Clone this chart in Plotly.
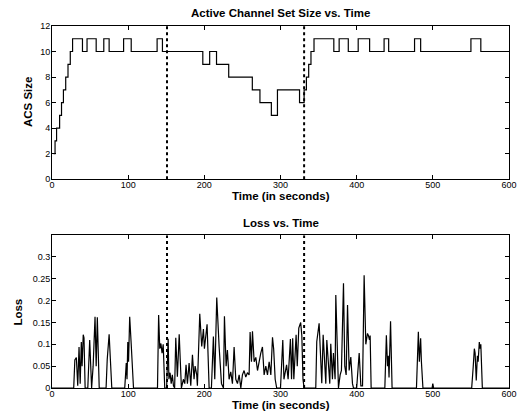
import plotly.graph_objects as go

# ---------------- data ----------------
# Active Channel Set size: step changes (time in s, new value)
acs_t = [2, 4, 6, 10, 12.5, 15, 18, 21, 24, 27, 40, 46, 58, 68, 75, 94, 104, 138, 145,
         198, 207, 216, 232, 263, 273, 288, 296, 325, 331, 334, 337, 340, 344,
         370, 377, 389, 402, 417, 436, 442, 476, 484, 550, 563, 600]
acs_v = [2, 3, 4, 5, 6, 7, 8, 9, 10, 11, 10, 11, 10, 11, 10, 11, 10, 11, 10,
         9, 10, 9, 8, 7, 6, 5, 7, 6, 7, 8, 9, 10, 11,
         10, 11, 10, 11, 10, 11, 10, 11, 10, 11, 10, 10]

# Loss over time
loss_t = [0, 28.5, 30, 32, 33.8, 35.5, 37, 38.5, 39.5, 41, 42, 43.5,
          47, 49.5, 52, 54, 56.5, 58, 59.5, 62,
          71, 72.5, 75, 76.5, 78.5,
          95.5, 97.5, 98.5, 99.5, 100.5, 102, 104, 107,
          138.5, 140, 141.5, 143, 144.5, 146, 148,
          150.5, 152.5, 153.5, 155, 156.5, 158, 159.5, 161,
          162.5, 164.6, 167, 169.9, 172.5, 174.3, 176, 177.8, 180, 182.2, 184.4, 186.5,
          187.9, 190, 190.9, 194, 196.6, 198.8, 200.1, 203.6, 206.3, 209.3, 211.9, 213.7,
          216.3, 219.4, 222.5, 225.1, 226.4, 228.6, 230.3, 232.5, 234.7, 236.9, 239.1,
          241.3, 243.5, 245.7, 247.9, 250, 252.2, 254.4, 256.6, 258.8, 260.1, 261.9,
          263.2, 265.4, 267.6, 269.8, 272, 274.1, 276.3, 278.5, 280.7, 282.9, 285.1,
          287.3, 289.5, 291, 293, 295, 300, 303, 304.5, 306.5, 308, 310, 313, 314.5,
          316, 317.5, 319, 320.5, 322, 324, 326.5, 328, 329.5, 331,
          346.3, 347.6, 350.7, 352.9, 354.2, 356, 358.2, 359.5, 360.8, 363, 364.7,
          366, 368.2, 369.5, 371.7, 372.6, 374.8, 376.1, 378.3, 380, 382.7, 384.4,
          386.2, 388, 390.1, 392.3, 394.5, 395.8, 400, 403.3, 405.5, 407.7, 409.8,
          412, 414.2, 415.5, 416.8, 417.7, 419,
          437, 439, 440.5, 441.5, 442.5, 444.5, 446.5,
          478.5, 481, 482.3, 484, 485, 487,
          499, 500, 501,
          551, 553, 554.5, 555.5, 557, 558.5, 559.5, 561, 562, 563, 565, 600]
loss_v = [0, 0, 0.064, 0.07, 0.005, 0.094, 0.01, 0.105, 0.05, 0.122, 0.115, 0,
          0, 0.11, 0, 0.05, 0.163, 0.05, 0.162, 0,
          0, 0.065, 0.123, 0.08, 0,
          0, 0.057, 0.02, 0.105, 0.06, 0.163, 0.1, 0,
          0, 0.167, 0.09, 0.102, 0.08, 0.1, 0,
          0, 0.113, 0.02, 0.035, 0.01, 0.03, 0.005, 0,
          0.115, 0.026, 0.123, 0, 0.02, 0.01, 0.053, 0.01, 0.057, 0.005, 0.076, 0.02,
          0.05, 0.03, 0.005, 0.17, 0.095, 0.135, 0.09, 0.146, 0, 0, 0.118, 0.02,
          0.207, 0.095, 0.01, 0, 0.164, 0.05, 0.087, 0.02, 0.037, 0.01, 0.094,
          0.02, 0.01, 0.03, 0, 0.03, 0.04, 0.025, 0.035, 0.03, 0.128, 0.06,
          0.13, 0.06, 0.07, 0.04, 0.065, 0.08, 0.094, 0.03, 0.05, 0.03, 0.06,
          0.03, 0.116, 0.09, 0.02, 0, 0, 0.11, 0.02, 0.04, 0.053, 0.02, 0.112, 0.02,
          0.114, 0.02, 0.07, 0.122, 0.05, 0.137, 0.15, 0.12, 0.02, 0,
          0, 0.106, 0.148, 0.07, 0.011, 0.122, 0.03, 0.01, 0.11, 0.04, 0.01,
          0.101, 0.02, 0.08, 0.02, 0.213, 0.07, 0, 0.03, 0.04, 0.24, 0.05,
          0.03, 0.19, 0.04, 0.071, 0.01, 0, 0, 0.08, 0.005, 0.005, 0.258,
          0.1, 0.125, 0.12, 0.11, 0.12, 0,
          0, 0.121, 0.05, 0.074, 0.024, 0.153, 0,
          0, 0.129, 0.06, 0.114, 0.06, 0,
          0, 0.01, 0,
          0, 0.048, 0.09, 0.08, 0.017, 0.074, 0.06, 0.105, 0.09, 0.1, 0, 0]

event_times = [151, 331]

x_ticks = [0, 100, 200, 300, 400, 500, 600]
acs_ticks = [0, 2, 4, 6, 8, 10, 12]
loss_ticks = [0, 0.05, 0.1, 0.15, 0.2, 0.25, 0.3]
loss_tick_labels = ["0", "0.05", "0.1", "0.15", "0.2", "0.25", "0.3"]

# ---------------- figure ----------------
FONT = "Liberation Sans, Arial, sans-serif"
fig = go.Figure()

fig.add_trace(go.Scatter(x=acs_t, y=acs_v, mode="lines", line=dict(color="black", width=1.2, shape="hv"),
                         xaxis="x", yaxis="y", showlegend=False, hoverinfo="skip"))
fig.add_trace(go.Scatter(x=loss_t, y=loss_v, mode="lines", line=dict(color="black", width=1.2),
                         xaxis="x2", yaxis="y2", showlegend=False, hoverinfo="skip"))

for et in event_times:
    fig.add_trace(go.Scatter(x=[et, et], y=[0, 12], mode="lines",
                             line=dict(color="black", width=2, dash="dot"),
                             xaxis="x", yaxis="y", showlegend=False, hoverinfo="skip"))
    fig.add_trace(go.Scatter(x=[et, et], y=[0, 0.35], mode="lines",
                             line=dict(color="black", width=2, dash="dot"),
                             xaxis="x2", yaxis="y2", showlegend=False, hoverinfo="skip"))

axis_common = dict(showline=True, linecolor="black", linewidth=1, mirror="ticks",
                   ticks="inside", ticklen=4, tickcolor="black", tickwidth=1,
                   showgrid=False, zeroline=False, automargin=False,
                   tickfont=dict(family=FONT, size=9, color="black"))
xaxis_common = dict(axis_common, ticklabelstandoff=-3)
yaxis_common = dict(axis_common, ticklabelstandoff=-1)

fig.update_layout(
    width=526, height=420,
    margin=dict(l=52, r=17, t=26, b=32, autoexpand=False),
    paper_bgcolor="white", plot_bgcolor="white",
    xaxis=dict(domain=[0, 1], anchor="y", range=[0, 600], tickvals=x_ticks, **xaxis_common),
    yaxis=dict(domain=[0.577, 1], anchor="x", range=[0, 12], tickvals=acs_ticks, **yaxis_common),
    xaxis2=dict(domain=[0, 1], anchor="y2", range=[0, 600], tickvals=x_ticks, **xaxis_common),
    yaxis2=dict(domain=[0, 0.4223], anchor="x2", range=[0, 0.35], tickvals=loss_ticks,
                ticktext=loss_tick_labels, **yaxis_common),
)

tfont = dict(family=FONT, size=11.5, color="black")
ann = [
    dict(text="<b>Active Channel Set Size vs. Time</b>", x=0.5, y=1.036),
    dict(text="<b>Time (in seconds)</b>", x=0.5, y=0.531),
    dict(text="<b>Loss vs. Time</b>", x=0.5, y=0.456),
    dict(text="<b>Time (in seconds)</b>", x=0.5, y=-0.046),
]
for a in ann:
    fig.add_annotation(xref="paper", yref="paper", showarrow=False, font=tfont,
                       xanchor="center", yanchor="middle", **a)
fig.add_annotation(text="<b>ACS Size</b>", xref="paper", yref="paper", x=-0.0525, y=0.79,
                   textangle=-90, showarrow=False, font=tfont, xanchor="center", yanchor="middle")
fig.add_annotation(text="<b>Loss</b>", xref="paper", yref="paper", x=-0.0744, y=0.211,
                   textangle=-90, showarrow=False, font=tfont, xanchor="center", yanchor="middle")

fig.write_html("out.html", config={"displayModeBar": False},
               post_script="document.body.style.margin='0';document.body.style.overflow='hidden';")
